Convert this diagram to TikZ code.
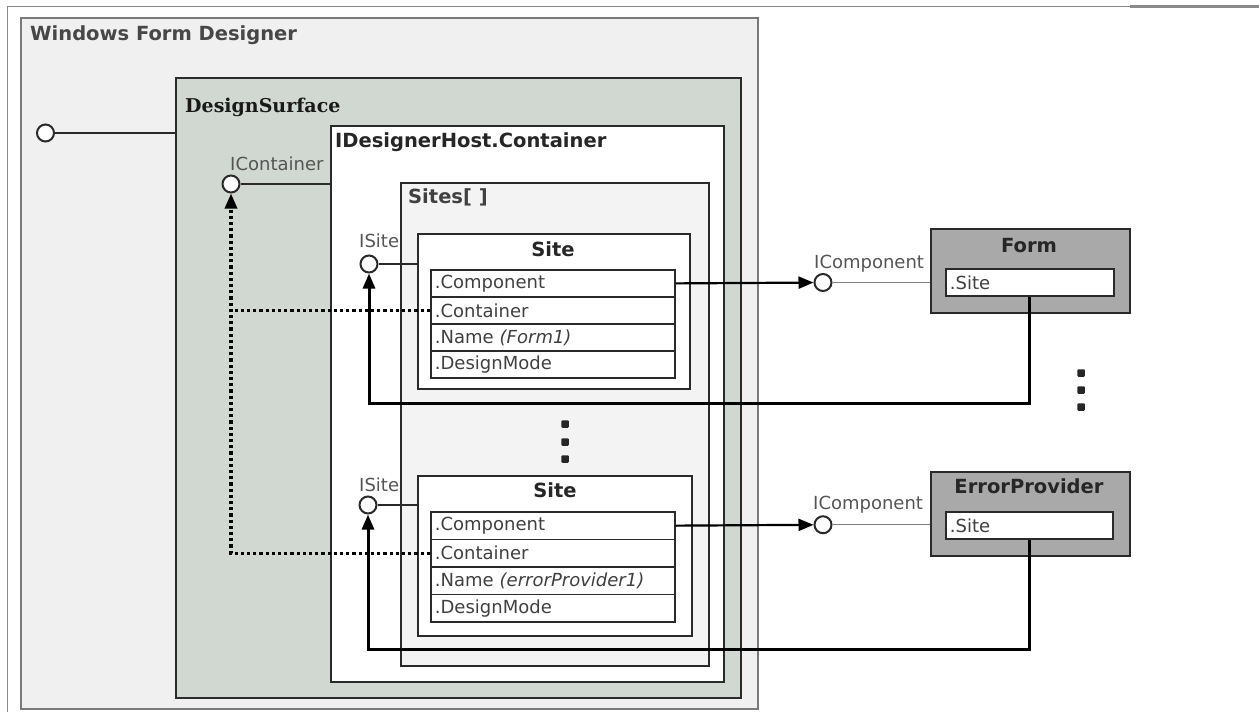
\documentclass[tikz,border=0pt]{standalone}
\usepackage{fontspec}
\setmainfont{DejaVu Sans}
\newfontfamily\dsserif{DejaVu Serif}
\usetikzlibrary{arrows.meta}
\definecolor{wfdfill}{HTML}{F0F0F0}
\definecolor{wfdedge}{HTML}{7A7A7A}
\definecolor{dsfill}{HTML}{D1D7D1}
\definecolor{sitesfill}{HTML}{F3F3F3}
\definecolor{compfill}{HTML}{A9A9A9}
\definecolor{edge}{HTML}{2A2A2A}
\definecolor{labelgrey}{HTML}{555555}
\definecolor{rowtext}{HTML}{404040}
\definecolor{titlegrey}{HTML}{474747}
\definecolor{framegrey}{HTML}{8A8A8A}
\newcommand\fReg{\fontsize{18}{21}\selectfont}
\newcommand\fBold{\fontsize{19.5}{22}\selectfont\bfseries}
\begin{document}
\begin{tikzpicture}[x=1pt,y=-1pt,
  box/.style={draw=edge, line width=2pt, anchor=north west, inner sep=0pt},
  row/.style={draw=edge, line width=1.8pt, fill=white, anchor=north west,
    minimum height=27pt, text width=236pt, inner xsep=4pt, inner ysep=0pt,
    align=left, font=\fReg, text=rowtext},
  rowb/.style={row, minimum height=27.5pt},
  circ/.style={circle, draw=edge, line width=2pt, fill=white, minimum size=17pt, inner sep=0pt},
  link/.style={draw=edge, line width=1.8pt},
  comp/.style={draw=black, line width=2.2pt},
  ret/.style={draw=black, line width=3pt},
  dotline/.style={draw=black, line width=3.2pt, dash pattern=on 3.2pt off 3pt},
  arrowtip/.style={-{Triangle[length=15pt,width=12pt]}},
  sq/.style={fill=black!85, minimum size=7.5pt, inner sep=0pt, rounded corners=1pt},
  title/.style={anchor=base west, inner sep=0pt, font=\fBold, text=black!85},
  ctitle/.style={anchor=base, inner sep=0pt, font=\fBold, text=black!85},
  lab/.style={anchor=base west, inner sep=0pt, font=\fReg, text=labelgrey}
]
\useasboundingbox (0,0) rectangle (1259,712);
\fill[white] (0,0) rectangle (1259,712);
\draw[framegrey, line width=1pt] (7,712) -- (7,6) -- (1259,6);
\draw[framegrey, line width=2.2pt] (1130,6.5) -- (1259,6.5);

% containers
\node[box, draw=wfdedge, fill=wfdfill, minimum width=737pt, minimum height=691pt] (wfd) at (20,17) {};
\node[box, fill=dsfill, minimum width=565pt, minimum height=620pt] (ds) at (175,77) {};
\node[box, fill=white, minimum width=393pt, minimum height=556pt] (idh) at (330,125) {};
\node[box, fill=sitesfill, minimum width=308pt, minimum height=483pt] (sites) at (400,182) {};
\node[box, fill=white, minimum width=272pt, minimum height=155pt] (site1) at (417,233) {};
\node[box, fill=white, minimum width=274pt, minimum height=160pt] (site2) at (417,475) {};

% titles
\node[title, text=titlegrey] (twfd) at (30,40) {Windows Form Designer};
\node[anchor=base west, inner sep=0pt, font={\dsserif\fontsize{19}{22}\selectfont\bfseries}, text=black!90] (tds) at (185,112) {DesignSurface};
\node[title] (tidh) at (335,147) {IDesignerHost.Container};
\node[title, text=black!75] (tsites) at (408,203) {Sites[ ]};
\node[ctitle] (tsite1) at (553,256) {Site};
\node[ctitle] (tsite2) at (555,497) {Site};

% site tables
\node[row] (s1comp) at (430,269) {.Component};
\node[row] (s1cont) at (430,296) {.Container};
\node[row] (s1name) at (430,323) {.Name \textit{(Form1)}};
\node[row] (s1mode) at (430,350) {.DesignMode};
\node[rowb] (s2comp) at (430,511) {.Component};
\node[rowb] (s2cont) at (430,538.5) {.Container};
\node[rowb] (s2name) at (430,566) {.Name \textit{(errorProvider1)}};
\node[rowb] (s2mode) at (430,593.5) {.DesignMode};

% components
\node[box, fill=compfill, minimum width=199pt, minimum height=84pt] (form) at (930,228) {};
\node[row, text width=160pt] (fsite) at (945,268) {.Site};
\node[ctitle] (tform) at (1029,252) {Form};
\node[box, fill=compfill, minimum width=199pt, minimum height=84pt] (err) at (930,471) {};
\node[row, text width=159pt] (esite) at (945,511) {.Site};
\node[ctitle] (terr) at (1029,493) {ErrorProvider};

% interface labels
\node[lab] (ticont) at (230,170) {IContainer};
\node[lab] (tis1) at (359,247) {ISite};
\node[lab] (tis2) at (359,491) {ISite};
\node[lab] (tic1) at (814,268) {IComponent};
\node[lab] (tic2) at (813,509) {IComponent};

% lollipops
\node[circ] (c0) at (45.5,133) {};
\node[circ] (icont) at (231,184) {};
\node[circ] (is1) at (369,264) {};
\node[circ] (is2) at (368,505) {};
\node[circ] (ic1) at (823,282.5) {};
\node[circ] (ic2) at (823,524.75) {};
\coordinate (rt1) at (369,403);
\coordinate (rt2) at (368,649);

\draw[link] (c0) -- (c0 -| ds.west);
\draw[link] (icont) -- (icont -| idh.west);
\draw[link] (is1) -- (is1 -| site1.west);
\draw[link] (is2) -- (is2 -| site2.west);
\draw[link, draw=gray, line width=1.4pt] (ic1) -- (ic1 -| form.west);
\draw[link, draw=gray, line width=1.4pt] (ic2) -- (ic2 -| err.west);

\draw[comp, arrowtip] (s1comp.east) -- (ic1);
\draw[comp, arrowtip] (s2comp.east) -- (ic2);
\draw[ret, arrowtip] (fsite.south) |- (rt1) -- (is1);
\draw[ret, arrowtip] (esite.south) |- (rt2) -- (is2);
\draw[dotline] (s1cont.west) -- (s1cont.west -| icont);
\draw[dotline, arrowtip] (s2cont.west) -| (icont);

% ellipsis marks
\node[sq] (d1) at (565,424) {};
\node[sq] (d2) at (565,442) {};
\node[sq] (d3) at (565,459) {};
\node[sq] (d4) at (1081,373) {};
\node[sq] (d5) at (1081,390) {};
\node[sq] (d6) at (1081,407) {};
\end{tikzpicture}
\end{document}
